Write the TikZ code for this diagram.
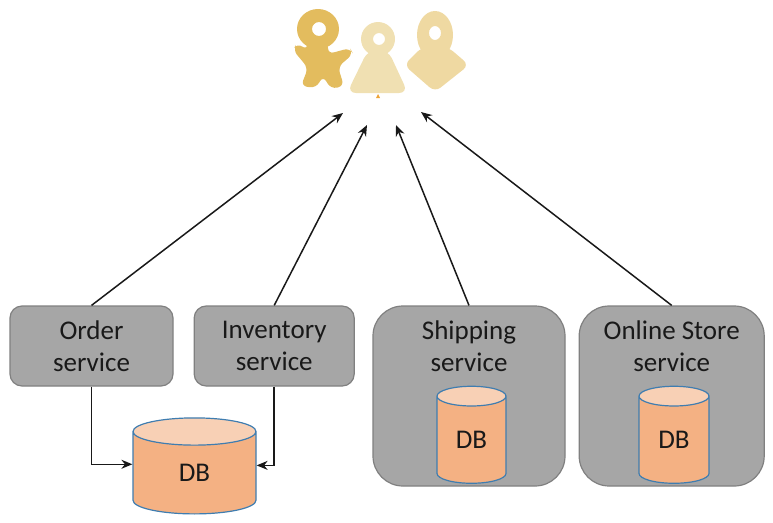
\documentclass[tikz,border=0pt]{standalone}
\usepackage{fontspec}
\setmainfont{Carlito}
\usetikzlibrary{arrows.meta,positioning,shapes.geometric}

\begin{document}
\begin{tikzpicture}[
    x=1pt, y=-1pt,
    node distance=20pt,
    every node/.style={font=\fontsize{27}{32}\selectfont, text=black!90},
    smallbox/.style={rectangle, draw=black!50, fill=black!35, line width=1.2pt, rounded corners=12pt, minimum width=163pt, minimum height=80pt, align=center},
    bigbox/.style={rectangle, draw=black!50, fill=black!35, line width=1.2pt, rounded corners=30pt, minimum height=180pt},
    dbase/.style={cylinder, shape border rotate=90, draw=dbblue, line width=1.2pt, cylinder uses custom fill, cylinder body fill=dborange, cylinder end fill=dbtop, inner sep=0pt},
    flow/.style={-{Stealth[length=11pt,width=9pt]}, line width=1.5pt, draw=black!90},
]
    \definecolor{dbblue}{HTML}{3F7DB0}
    \definecolor{dborange}{HTML}{F4B183}
    \definecolor{dbtop}{HTML}{F8D0B5}
    \definecolor{logoa}{HTML}{E3BC5E}
    \definecolor{logob}{HTML}{F0E0B2}
    \definecolor{logoc}{HTML}{EFD9A2}
    \useasboundingbox (0,0) rectangle (773,522);

    % the three figures on top
    \fill[logoa, even odd rule] (318,29) circle[x radius=21, y radius=20] (319,29) circle[radius=7];
    \fill[logoa, rounded corners=6pt] (308,42) -- (307,50) -- (297,43) -- (293,50) -- (308,68) -- (301,86) -- (316,88) -- (323,76) -- (331,89) -- (344,86) -- (338,67) -- (353,54) -- (350,48) -- (328,54) -- (328,42) -- cycle;
    \fill[logob, even odd rule] (378,39) circle[radius=17] (379,39) circle[radius=6];
    \fill[logob, rounded corners=9pt] (368,50) -- (347,93) -- (408,93) -- (388,50) -- cycle;
    \fill[logoc, even odd rule] (435,35) circle[x radius=18, y radius=24] (435,33) circle[x radius=6, y radius=7];
    \fill[logoc, rounded corners=7pt] (422,47) -- (404,65) -- (435,92) -- (469,65) -- (448,47) -- cycle;
    \fill[logoa!60!orange] (378,94) -- (380,98) -- (376,98) -- cycle;

    % services
    \node[smallbox] (order) at (91.5,346) {Order\\service};
    \node[smallbox, right=of order, minimum width=160pt] (inventory) {Inventory\\service};
    \node[bigbox, minimum width=192pt] (shipping) at (469,396) {};
    \node[bigbox, right=13pt of shipping, minimum width=185pt] (online) {};
    \node[below=12pt of shipping.north, align=center] (shippinglabel) {Shipping\\service};
    \node[below=12pt of online.north, align=center] (onlinelabel) {Online Store\\service};

    % databases
    \node[dbase, minimum width=123pt, minimum height=96pt, aspect=0.87] (shareddb) at (194.5,473) {DB};
    \node[dbase, minimum width=69pt, minimum height=97pt, aspect=0.63] (shippingdb) at (471.5,440) {DB};
    \node[dbase, minimum width=70pt, minimum height=97pt, aspect=0.63] (onlinedb) at (674,440) {DB};

    % arrow ends below the figures
    \coordinate (endorder) at (343,113);
    \coordinate (endinventory) at (367,125);
    \coordinate (endshipping) at (396,125);
    \coordinate (endonline) at (421,112);

    \draw[flow] (order.north) -- (endorder);
    \draw[flow] (inventory.north) -- (endinventory);
    \draw[flow] (shipping.north) -- (endshipping);
    \draw[flow] (online.north) -- (endonline);

    \draw[flow] (order.south) |- (shareddb.172.5);
    \draw[flow] (inventory.south) |- (shareddb.7.5);
\end{tikzpicture}
\end{document}
